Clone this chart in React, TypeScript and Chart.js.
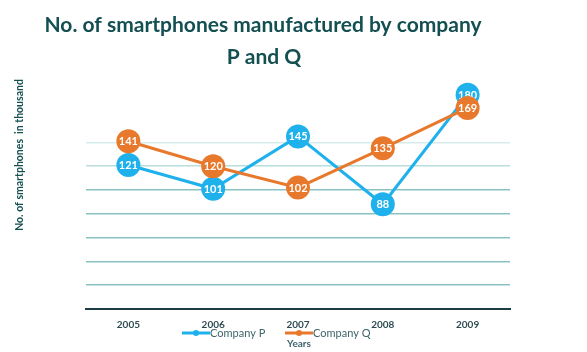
import React, { useEffect, useRef } from "react";
import { Chart, registerables } from "chart.js";

Chart.register(...registerables);

const years = ["2005", "2006", "2007", "2008", "2009"];
const companyP = [121, 101, 145, 88, 180];
const companyQ = [141, 120, 102, 135, 169];
const seriesNames = ["Company P", "Company Q"];
const titleLines = ["No. of smartphones manufactured by company", "P and Q"];
const yTitle = "No. of smartphones  in thousand";
const xTitle = "Years";

const BLUE = "#1fb1ec";
const ORANGE = "#e8792c";
const TEAL = "#144f52";

const overlayPlugin = {
  id: "overlay",
  afterDatasetDraw(chart: any, args: any) {
    const ctx = chart.ctx;
    const meta = args.meta;
    const ds = chart.data.datasets[args.index];
    ctx.save();
    ctx.fillStyle = "#ffffff";
    ctx.font = "bold 11px Lato";
    ctx.textAlign = "center";
    ctx.textBaseline = "middle";
    meta.data.forEach((pt: any, i: number) => {
      ctx.fillText(String(ds.data[i]), pt.x, pt.y + 0.5);
    });
    ctx.restore();
  },
  afterDraw(chart: any) {
    const ctx = chart.ctx;
    ctx.save();
    // title
    ctx.fillStyle = TEAL;
    ctx.font = "bold 21px Lato";
    ctx.textAlign = "center";
    ctx.textBaseline = "middle";
    ctx.fillText(titleLines[0], 263, 25);
    ctx.fillText(titleLines[1], 264, 57);
    // y title
    ctx.save();
    ctx.translate(20, 155);
    ctx.rotate(-Math.PI / 2);
    ctx.font = "bold 10.5px Lato";
    ctx.fillStyle = TEAL;
    ctx.fillText(yTitle, 0, 0);
    ctx.restore();
    // legend
    const items = [
      { name: seriesNames[0], color: BLUE, x: 182 },
      { name: seriesNames[1], color: ORANGE, x: 285 },
    ];
    const ly = 333;
    items.forEach((it) => {
      ctx.strokeStyle = it.color;
      ctx.lineWidth = 3;
      ctx.beginPath();
      ctx.moveTo(it.x, ly);
      ctx.lineTo(it.x + 28, ly);
      ctx.stroke();
      ctx.fillStyle = it.color;
      ctx.beginPath();
      ctx.arc(it.x + 14, ly, 3, 0, Math.PI * 2);
      ctx.fill();
      ctx.fillStyle = "#3d6469";
      ctx.font = "11px Lato";
      ctx.textAlign = "left";
      ctx.fillText(it.name, it.x + 28, ly);
    });
    // x title
    ctx.fillStyle = "#3d6469";
    ctx.font = "bold 10px Lato";
    ctx.textAlign = "center";
    ctx.fillText(xTitle, 299, 344);
    ctx.restore();
  },
};

export default function App() {
  const ref = useRef<HTMLCanvasElement | null>(null);
  useEffect(() => {
    if (!ref.current) return;
    const chart = new Chart(ref.current, {
      type: "line",
      data: {
        labels: years,
        datasets: [
          {
            label: seriesNames[1],
            data: companyQ,
            borderColor: ORANGE,
            backgroundColor: ORANGE,
            borderWidth: 3,
            pointRadius: 12,
            pointBorderWidth: 0,
            pointBackgroundColor: ORANGE,
            tension: 0,
          },
          {
            label: seriesNames[0],
            data: companyP,
            borderColor: BLUE,
            backgroundColor: BLUE,
            borderWidth: 3,
            pointRadius: 12,
            pointBorderWidth: 0,
            pointBackgroundColor: BLUE,
            tension: 0,
          },
        ],
      },
      options: {
        animation: false,
        responsive: false,
        maintainAspectRatio: false,
        layout: { padding: { left: 86, right: 77, top: 71, bottom: 19 } },
        plugins: {
          legend: { display: false },
          title: { display: false },
          tooltip: { enabled: false },
        },
        scales: {
          x: {
            offset: true,
            grid: { display: false },
            border: { display: true, color: "#1d3d44", width: 2 },
            ticks: {
              padding: 2,
              color: "#2d4c52",
              font: { family: "Lato", size: 10, weight: "bold" },
            },
          },
          y: {
            min: 0,
            max: 200,
            ticks: { display: false, stepSize: 20 },
            border: { display: false },
            grid: {
              drawTicks: false,
              lineWidth: 1.5,
              color: (c: any) => {
                const v = c.tick ? c.tick.value : 0;
                if (v <= 0 || v > 140) return "rgba(0,0,0,0)";
                if (v === 140) return "#d6ecec";
                if (v === 120) return "#b9dcdc";
                return "#8cc1c1";
              },
            },
          },
        },
      },
      plugins: [overlayPlugin],
    });
    return () => chart.destroy();
  }, []);
  return (
    <div style={{ position: "fixed", left: 0, top: 0, width: 587, height: 352, background: "#fff" }}>
      <canvas ref={ref} width={587} height={352} style={{ width: 587, height: 352 }} />
    </div>
  );
}
